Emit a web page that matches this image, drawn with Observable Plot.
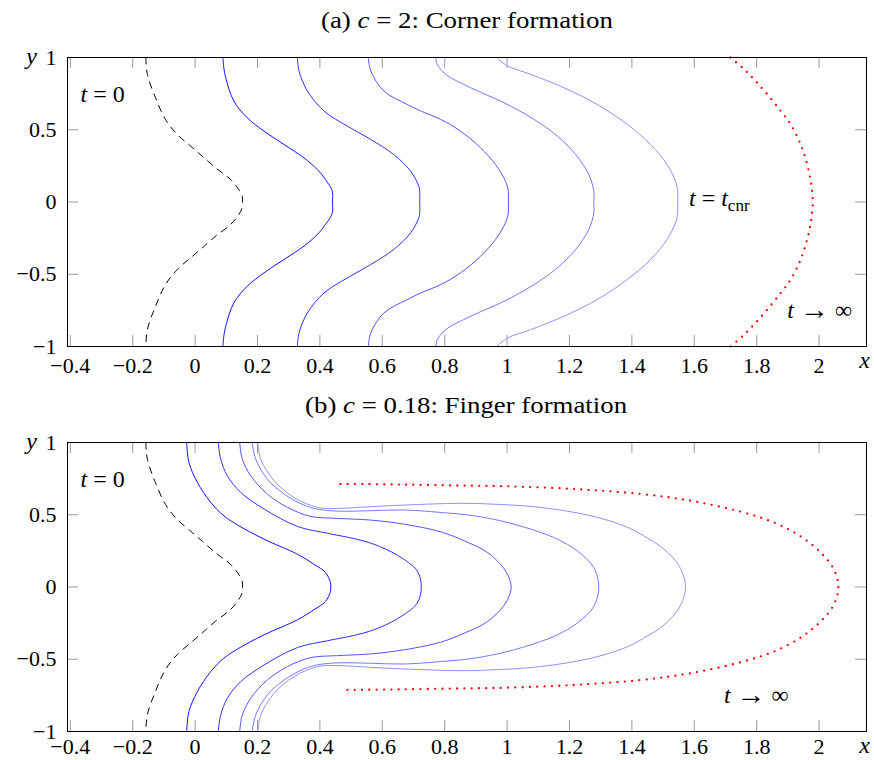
<!DOCTYPE html>
<html>
<head>
<meta charset="utf-8">
<script src="https://cdn.jsdelivr.net/npm/d3@7"></script>
<script src="https://cdn.jsdelivr.net/npm/@observablehq/plot@0.6"></script>
<style>
  body { margin: 0; background: #fff; }
  .panel { position: absolute; left: 0; width: 874px; height: 380px; }
  .title { position: absolute; left: 67px; width: 799px; text-align: center; font-size: 23px; line-height: 23px; color: #000; white-space: nowrap; }
  .title span { display: inline-block; transform-origin: center; }
</style>
</head>
<body>
<div id="panelA" class="panel" style="top:0px"><div class="title" style="top:9px"><span id="titleA">(a) <i>c</i> = 2: Corner formation</span></div></div>
<div id="panelB" class="panel" style="top:385px"><div class="title" style="top:9px"><span id="titleB">(b) <i>c</i> = 0.18: Finger formation</span></div></div>
<script>
// ---------- tick values ----------
const xTicks = [-0.4, -0.2, 0, 0.2, 0.4, 0.6, 0.8, 1, 1.2, 1.4, 1.6, 1.8, 2];
const yTicks = [-1, -0.5, 0, 0.5, 1];

// ---------- curves: upper half (y from 1 down to 0), mirrored in y ----------
// initial interface t = 0 (same in both panels)
const initialFront = [[-0.158,1],[-0.153,0.884],[-0.127,0.722],[-0.095,0.572],[-0.057,0.467],[-0.014,0.386],[0.023,0.317],[0.066,0.236],[0.114,0.155],[0.14,0.086],[0.151,0.04],[0.152,0]];

// (a) c = 2
const cornerFront1 = [[0.089,1],[0.092,0.93],[0.098,0.861],[0.124,0.699],[0.167,0.583],[0.221,0.49],[0.285,0.398],[0.349,0.305],[0.392,0.224],[0.418,0.155],[0.44,0.074],[0.44,0]];
const cornerFront2 = [[0.328,1],[0.333,0.907],[0.36,0.768],[0.413,0.63],[0.488,0.525],[0.563,0.433],[0.637,0.328],[0.691,0.213],[0.717,0.109],[0.72,0.074],[0.72,0]];
const cornerFront3 = [[0.555,1],[0.563,0.907],[0.605,0.768],[0.68,0.675],[0.723,0.63],[0.787,0.572],[0.851,0.49],[0.915,0.375],[0.963,0.259],[0.995,0.143],[1.004,0.074],[1.004,0]];
const cornerFront4 = [[0.771,1],[0.776,0.953],[0.803,0.884],[0.883,0.791],[0.99,0.687],[1.086,0.572],[1.161,0.456],[1.22,0.328],[1.262,0.19],[1.278,0.074],[1.278,0]];
const cornerFront5 = [[0.966,1],[1.001,0.942],[1.075,0.884],[1.182,0.791],[1.289,0.675],[1.385,0.537],[1.46,0.398],[1.513,0.259],[1.54,0.143],[1.547,0.074],[1.547,0]];
const cornerLimit = [[1.716,1],[1.754,0.93],[1.791,0.849],[1.834,0.745],[1.877,0.63],[1.909,0.537],[1.941,0.398],[1.962,0.259],[1.975,0.12],[1.98,0]];

// (b) c = 0.18
const fingerFront1 = [[-0.027,1],[-0.02,0.864],[0.007,0.725],[0.05,0.586],[0.092,0.493],[0.14,0.424],[0.221,0.331],[0.328,0.227],[0.381,0.157],[0.418,0.1],[0.434,0.03],[0.435,0]];
const fingerFront2 = [[0.074,1],[0.082,0.887],[0.103,0.771],[0.146,0.655],[0.221,0.54],[0.328,0.419],[0.424,0.372],[0.509,0.335],[0.573,0.296],[0.648,0.22],[0.712,0.111],[0.725,0]];
const fingerFront3 = [[0.143,1],[0.151,0.887],[0.178,0.771],[0.231,0.644],[0.296,0.551],[0.37,0.489],[0.456,0.475],[0.563,0.463],[0.669,0.435],[0.787,0.382],[0.862,0.32],[0.937,0.239],[0.995,0.111],[1.013,0]];
const fingerFront4 = [[0.183,1],[0.194,0.887],[0.231,0.748],[0.285,0.644],[0.349,0.567],[0.392,0.539],[0.456,0.525],[0.563,0.528],[0.669,0.533],[0.787,0.516],[0.894,0.493],[1.0,0.447],[1.107,0.378],[1.161,0.331],[1.225,0.25],[1.278,0.134],[1.294,0]];
const fingerFront5 = [[0.201,1],[0.21,0.887],[0.253,0.736],[0.317,0.62],[0.392,0.551],[0.456,0.544],[0.563,0.556],[0.669,0.567],[0.851,0.579],[0.947,0.574],[1.107,0.551],[1.268,0.493],[1.374,0.424],[1.438,0.354],[1.503,0.262],[1.551,0.146],[1.572,0]];
const fingerLimit = [[0.466,0.713],[0.65,0.709],[0.851,0.702],[1.0,0.697],[1.214,0.678],[1.428,0.644],[1.588,0.597],[1.748,0.521],[1.855,0.447],[1.941,0.35],[2.005,0.239],[2.047,0.123],[2.062,0]];

// ---------- annotations ----------
const labelsA = [
  {x: -0.367, y: 0.745, key: "t0"},
  {x: 1.583, y: 0.023, key: "tcnr"},
  {x: 1.898, y: -0.748, key: "tinf"}
];
const labelsB = [
  {x: -0.367, y: 0.748, key: "t0"},
  {x: 1.695, y: -0.749, key: "tinf"}
];
const labelText = {t0: "t = 0", tcnr: "t = tcnr", tinf: "t → ∞"};
const labelRich = {
  "t = 0": '<tspan font-style="italic">t</tspan> = 0',
  "t = tcnr": '<tspan font-style="italic">t</tspan> = <tspan font-style="italic">t</tspan><tspan font-size="17" dy="5">cnr</tspan>',
  "t → ∞": '<tspan font-style="italic">t</tspan> <tspan font-size="29" dy="1">→</tspan> <tspan dy="-1">∞</tspan>'
};

// ---------- font choice (first installed Times-like serif) ----------
function hasFont(name) {
  const c = document.createElement("canvas").getContext("2d");
  const s = "mmmmmmmmmmlli0.5(abc)WQ=";
  for (const base of ["monospace", "sans-serif"]) {
    c.font = `40px ${base}`; const w0 = c.measureText(s).width;
    c.font = `40px "${name}", ${base}`; const w1 = c.measureText(s).width;
    if (Math.abs(w0 - w1) > 0.5) return true;
  }
  return false;
}
const serifName = ["Liberation Serif", "Times New Roman", "Tinos", "Nimbus Roman", "Nimbus Roman No9 L", "FreeSerif", "DejaVu Serif"].find(hasFont) || "serif";
const FONT = `"${serifName}", serif`;
document.body.style.fontFamily = FONT;

// ---------- helpers ----------
function mirror(half) {
  const up = half.map(([x, y]) => ({x, y}));
  const down = half.slice(0, -1).reverse().map(([x, y]) => ({x, y: -y}));
  return up.concat(down);
}
const fmt = d => (d < 0 ? "\u2212" + Math.abs(d) : String(d));
const blues = ["#1010ff", "#3030ff", "#5555ff", "#7777ff", "#9090ff"];

function makePanel(fronts, limit, labels, height, marginTop, marginBottom, xPad) {
  const marginLeft = 67, marginRight = 8, width = 874;
  const plotW = width - marginLeft - marginRight;
  const plotH = height - marginTop - marginBottom;
  const tick = 11;
  const marks = [
    Plot.tickX(xTicks, {x: d => d, insetTop: plotH - tick, stroke: "#9a9a9a", strokeWidth: 1}),
    Plot.tickX(xTicks, {x: d => d, insetBottom: plotH - tick, stroke: "#9a9a9a", strokeWidth: 1}),
    Plot.tickY(yTicks, {y: d => d, insetRight: plotW - tick, stroke: "#9a9a9a", strokeWidth: 1}),
    Plot.tickY(yTicks, {y: d => d, insetLeft: plotW - tick, stroke: "#9a9a9a", strokeWidth: 1}),
    Plot.axisX(xTicks, {tickSize: 0, tickPadding: xPad, tickFormat: fmt, label: null, fontSize: 22, fontFamily: FONT}),
    Plot.axisY(yTicks, {tickSize: 0, tickPadding: 11, tickFormat: fmt, label: null, fontSize: 22, fontFamily: FONT}),
    Plot.line(mirror(initialFront), {x: "x", y: "y", stroke: "black", strokeWidth: 1, strokeDasharray: "6.5,6", curve: "catmull-rom"}),
    ...fronts.map((f, i) => Plot.line(mirror(f), {x: "x", y: "y", stroke: blues[i], strokeWidth: 1, curve: "catmull-rom"})),
    Plot.line(mirror(limit), {x: "x", y: "y", stroke: "#ff0000", strokeWidth: 2.3, strokeDasharray: "0,7.3", strokeLinecap: "round", curve: "catmull-rom"}),
    Plot.text(labels, {x: "x", y: "y", text: d => labelText[d.key], textAnchor: "start", lineAnchor: "middle", fontSize: 24, fontFamily: FONT, fill: "black"}),
    Plot.text(["y"], {frameAnchor: "top-left", textAnchor: "middle", lineAnchor: "middle", dx: -36, dy: -1, fontSize: 24, fontStyle: "italic", fontFamily: FONT, fill: "black"}),
    Plot.text(["x"], {frameAnchor: "bottom-right", textAnchor: "middle", lineAnchor: "middle", dx: -2, dy: 14, fontSize: 24, fontStyle: "italic", fontFamily: FONT, fill: "black"}),
    Plot.frame({stroke: "black", strokeWidth: 1})
  ];
  const svg = Plot.plot({
    width, height, marginTop, marginBottom, marginLeft, marginRight,
    x: {domain: [-0.409, 2.152]},
    y: {domain: [-1, 1]},
    style: {fontFamily: FONT, fontSize: "22px", color: "black", background: "white", overflow: "visible"},
    marks
  });
  d3.select(svg).selectAll("text").each(function() {
    const t = this.textContent;
    if (labelRich[t]) this.innerHTML = labelRich[t];
  });
  svg.style.position = "absolute";
  svg.style.top = "0px";
  svg.style.left = "0px";
  return svg;
}

const svgA = makePanel([cornerFront1, cornerFront2, cornerFront3, cornerFront4, cornerFront5], cornerLimit, labelsA, 380, 57, 34, 11);
const svgB = makePanel([fingerFront1, fingerFront2, fingerFront3, fingerFront4, fingerFront5], fingerLimit, labelsB, 375, 57, 29, 7);
document.getElementById("panelA").prepend(svgA);
document.getElementById("panelB").prepend(svgB);

// stretch titles to the reference's width
function fitTitle(id, target) {
  const el = document.getElementById(id);
  const w = el.getBoundingClientRect().width;
  el.style.transform = `scaleX(${target / w})`;
}
fitTitle("titleA", 292);
fitTitle("titleB", 322);
</script>
</body>
</html>
